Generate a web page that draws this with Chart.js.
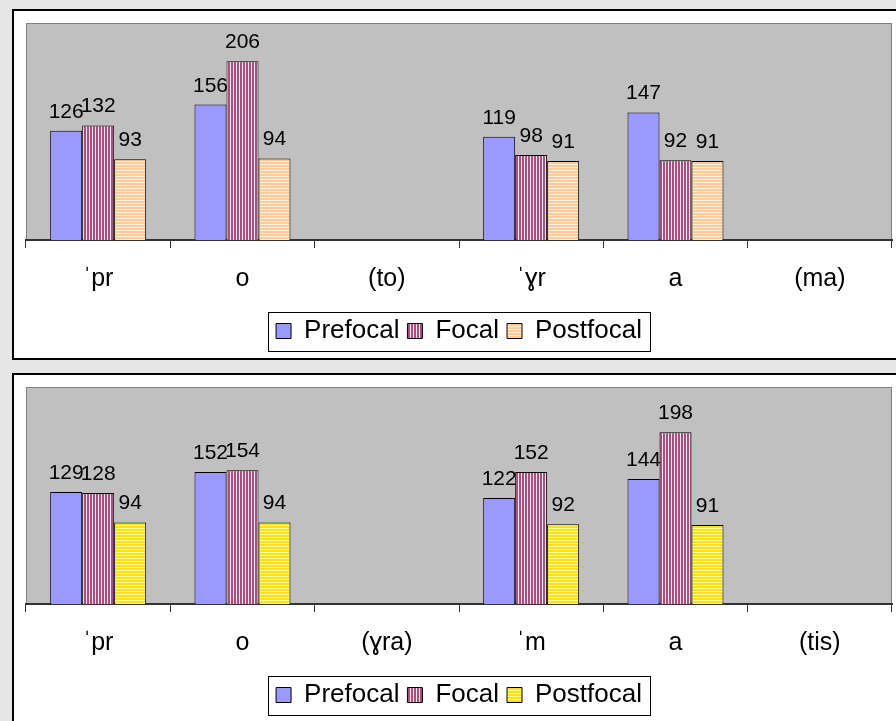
<!DOCTYPE html>
<html>
<head>
<meta charset="utf-8">
<script src="https://cdn.jsdelivr.net/npm/chart.js@4"></script>
<style>
  body { margin: 0; width: 896px; height: 721px; overflow: hidden; background: #e6e6e6; position: relative; font-family: "Liberation Sans", Arial, sans-serif; }
  .panel { position: absolute; left: 12px; width: 900px; background: #fff; border: 2px solid #000; box-sizing: border-box; }
  canvas { position: absolute; left: 0; }
</style>
</head>
<body>
<div class="panel" style="top:9px;height:351px"></div>
<div class="panel" style="top:373px;height:360px"></div>
<canvas id="top" width="896" height="360" style="top:0"></canvas>
<canvas id="bottom" width="896" height="360" style="top:364px"></canvas>
<script>
const seriesNames = ["Prefocal", "Focal", "Postfocal"];

const topLabels = ["ˈpr", "o", "(to)", "ˈɣr", "a", "(ma)"];
const topPrefocal = [126, 156, null, 119, 147, null];
const topFocal = [132, 206, null, 98, 92, null];
const topPostfocal = [93, 94, null, 91, 91, null];

const bottomLabels = ["ˈpr", "o", "(ɣra)", "ˈm", "a", "(tis)"];
const bottomPrefocal = [129, 152, null, 122, 144, null];
const bottomFocal = [128, 154, null, 152, 198, null];
const bottomPostfocal = [94, 94, null, 92, 91, null];

const font = "'Liberation Sans', Arial, sans-serif";

function stripes(vertical, main, light) {
  const c = document.createElement("canvas");
  c.width = 3; c.height = 3;
  const g = c.getContext("2d");
  g.fillStyle = main;
  g.fillRect(0, 0, 3, 3);
  g.fillStyle = light;
  if (vertical) g.fillRect(2, 0, 1, 3); else g.fillRect(0, 2, 3, 1);
  return g.createPattern(c, "repeat");
}

const prefocalFill = "#9999ff";
const focalFill = stripes(true, "#a8507f", "#f4e4ee");
const peachFill = stripes(false, "#ffcc99", "#fff0e2");
const yellowFill = stripes(false, "#ffdf20", "#ffff99");

const plotBg = {
  id: "plotBg",
  beforeDraw(chart) {
    const a = chart.chartArea, g = chart.ctx;
    g.save();
    g.fillStyle = "#c0c0c0";
    g.fillRect(a.left, a.top, a.right - a.left, a.bottom - a.top);
    g.strokeStyle = "#808080";
    g.lineWidth = 1;
    g.strokeRect(a.left + 0.5, a.top + 0.5, a.right - a.left - 1, a.bottom - a.top);
    g.restore();
  }
};

const valueLabels = {
  id: "valueLabels",
  afterDatasetsDraw(chart) {
    const g = chart.ctx;
    g.save();
    g.font = "21px " + font;
    g.fillStyle = "#000";
    g.textAlign = "center";
    g.textBaseline = "alphabetic";
    chart.data.datasets.forEach((ds, i) => {
      chart.getDatasetMeta(i).data.forEach((bar, j) => {
        if (ds.data[j] == null) return;
        g.fillText(ds.data[j], bar.x, bar.y - 13);
      });
    });
    g.restore();
  }
};

const legendBox = {
  id: "legendBox",
  afterDraw(chart) {
    const boxes = chart.legend.legendHitBoxes;
    if (!boxes.length) return;
    const left = Math.min(...boxes.map(b => b.left)) - 8;
    const right = Math.max(...boxes.map(b => b.left + b.width)) + 8;
    const mid = boxes[0].top + boxes[0].height / 2;
    const g = chart.ctx;
    g.save();
    g.strokeStyle = "#000";
    g.lineWidth = 1;
    g.strokeRect(Math.round(left) + 0.5, Math.round(mid - 19.5) + 0.5, Math.round(right - left), 39);
    g.restore();
  }
};

function makeChart(id, labels, pre, foc, post, postFill) {
  new Chart(document.getElementById(id), {
    type: "bar",
    data: {
      labels: labels,
      datasets: [
        { label: seriesNames[0], data: pre, backgroundColor: prefocalFill },
        { label: seriesNames[1], data: foc, backgroundColor: focalFill },
        { label: seriesNames[2], data: post, backgroundColor: postFill }
      ]
    },
    options: {
      responsive: false,
      animation: false,
      datasets: {
        bar: { borderColor: "#000", borderWidth: 1, categoryPercentage: 0.665, barPercentage: 1 }
      },
      layout: { padding: { left: 26, right: 4, top: 23, bottom: 6 } },
      scales: {
        x: {
          grid: { offset: true, drawOnChartArea: false, tickLength: 8, color: "#333" },
          border: { color: "#333", width: 2 },
          ticks: { color: "#000", font: { family: font, size: 25 }, padding: 16 }
        },
        y: { display: false, min: 0, max: 250 }
      },
      plugins: {
        tooltip: { enabled: false },
        legend: {
          position: "bottom",
          labels: {
            color: "#000",
            font: { family: font, size: 26 },
            boxWidth: 15,
            boxHeight: 15,
            padding: 8
          }
        }
      }
    },
    plugins: [plotBg, valueLabels, legendBox]
  });
}

makeChart("top", topLabels, topPrefocal, topFocal, topPostfocal, peachFill);
makeChart("bottom", bottomLabels, bottomPrefocal, bottomFocal, bottomPostfocal, yellowFill);
</script>
</body>
</html>
